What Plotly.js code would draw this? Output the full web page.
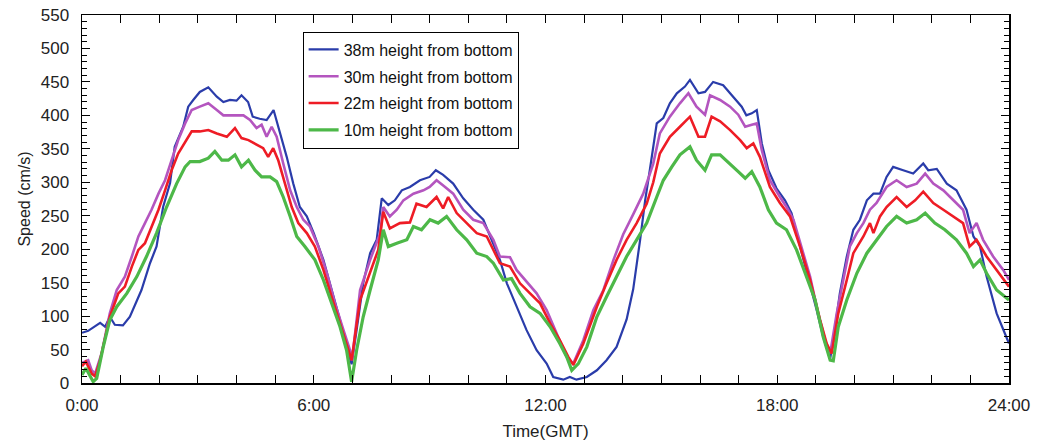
<!DOCTYPE html>
<html>
<head>
<meta charset="utf-8">
<script src="https://cdn.plot.ly/plotly-3.0.1.min.js"></script>
<style>html,body{margin:0;padding:0;background:#fff;}#chart{width:1040px;height:442px;}</style>
</head>
<body>
<div id="chart"></div>
<script>
// Series names
const seriesNames = ["38m height from bottom", "30m height from bottom", "22m height from bottom", "10m height from bottom"];
const seriesColors = ["#2a3caa", "#b455bf", "#ee1c25", "#4db848"];

// 38 m (hours, cm/s)
const t38 = [0,0.16,0.47,0.6,0.72,0.85,1.06,1.24,1.54,1.76,1.93,2.1,2.28,2.4,2.62,2.75,2.88,3.05,3.27,3.49,3.66,3.83,4.0,4.13,4.3,4.42,4.6,4.78,4.96,5.08,5.3,5.47,5.64,5.82,6.0,6.25,6.5,6.68,6.85,6.98,7.11,7.28,7.46,7.63,7.76,7.93,8.1,8.28,8.49,8.75,9.0,9.16,9.35,9.61,9.87,10.13,10.39,10.65,10.82,11.0,11.25,11.51,11.77,12.03,12.2,12.46,12.63,12.8,13.07,13.33,13.58,13.84,14.1,14.27,14.45,14.58,14.7,14.88,15.05,15.22,15.4,15.61,15.74,15.96,16.13,16.34,16.6,16.86,17.08,17.2,17.34,17.47,17.6,17.77,17.98,18.2,18.37,18.59,18.8,19.02,19.19,19.37,19.5,19.62,19.8,19.97,20.14,20.32,20.49,20.66,20.83,21.0,21.26,21.52,21.78,21.91,22.13,22.39,22.64,22.9,23.08,23.25,23.42,23.68,24.0];
const v38 = [75,78,90,84,99,87,86,99,139,179,204,263,299,353,383,413,423,435,442,428,420,423,422,430,420,398,395,393,408,383,338,298,263,249,224,184,134,94,54,28,79,149,194,214,276,266,273,288,293,303,308,318,311,298,276,259,244,209,184,149,114,79,49,29,9,5,9,5,9,19,34,54,95,140,214,273,318,388,396,418,433,443,453,433,435,450,445,428,413,400,403,408,358,318,291,273,254,204,159,109,69,36,84,134,189,229,244,273,283,283,308,323,318,313,328,318,320,298,288,259,219,204,159,104,59];

// 30 m
const t30 = [0,0.16,0.25,0.34,0.51,0.72,0.9,1.11,1.29,1.46,1.63,1.8,1.98,2.15,2.32,2.49,2.67,2.84,3.05,3.27,3.49,3.66,3.92,4.18,4.35,4.52,4.65,4.78,4.91,5.04,5.21,5.39,5.56,5.73,5.9,6.12,6.34,6.55,6.77,6.94,6.99,7.2,7.46,7.72,7.8,7.97,8.15,8.32,8.58,8.84,9.0,9.18,9.4,9.61,9.87,10.13,10.39,10.65,10.82,11.08,11.25,11.51,11.77,12.03,12.29,12.55,12.72,12.98,13.24,13.5,13.76,14.01,14.27,14.53,14.79,14.96,15.22,15.48,15.7,15.91,16.13,16.26,16.52,16.78,16.99,17.17,17.34,17.47,17.6,17.81,18.07,18.24,18.42,18.63,18.85,19.06,19.24,19.37,19.54,19.71,19.88,20.06,20.23,20.4,20.57,20.83,21.09,21.35,21.61,21.83,22.04,22.3,22.56,22.81,22.98,23.16,23.33,23.59,23.85,24.0];
const v30 = [30,34,19,14,45,104,139,159,189,219,239,259,283,303,333,363,388,408,413,418,408,400,400,400,393,381,386,368,383,368,328,288,263,244,234,204,164,119,79,49,34,139,184,224,263,249,259,273,283,288,293,303,293,283,259,244,239,214,189,188,169,151,134,109,74,39,29,64,109,139,184,222,252,283,328,373,398,418,433,413,401,430,423,413,401,383,386,388,348,303,278,263,244,204,159,104,64,44,104,154,204,224,239,259,269,293,303,293,298,313,298,288,273,259,224,239,214,189,169,154];

// 22 m
const t22 = [0,0.1,0.25,0.34,0.47,0.72,0.94,1.11,1.29,1.46,1.63,1.8,1.98,2.15,2.32,2.49,2.67,2.84,3.05,3.27,3.49,3.75,3.96,4.13,4.31,4.52,4.69,4.82,4.95,5.08,5.26,5.43,5.6,5.82,6.03,6.25,6.46,6.68,6.85,6.98,7.2,7.46,7.67,7.8,7.97,8.23,8.49,8.66,8.92,9.18,9.35,9.48,9.7,9.96,10.22,10.48,10.65,10.82,11.08,11.34,11.6,11.86,12.12,12.37,12.59,12.72,12.98,13.33,13.58,13.84,14.1,14.36,14.62,14.79,14.96,15.22,15.48,15.74,15.96,16.13,16.3,16.52,16.78,17.04,17.21,17.38,17.55,17.81,18.07,18.33,18.59,18.85,19.11,19.28,19.41,19.58,19.8,19.97,20.23,20.4,20.49,20.66,20.83,21.09,21.35,21.57,21.78,22.04,22.3,22.56,22.81,22.98,23.16,23.42,23.68,24.0];
const v22 = [25,32,14,10,34,99,134,144,174,199,209,234,259,288,318,343,361,376,376,378,373,368,381,366,363,356,351,338,351,333,298,263,239,224,204,169,129,89,59,34,124,164,199,256,231,239,240,268,263,278,261,278,254,239,224,219,199,179,174,149,134,119,89,64,39,27,59,114,149,184,214,239,268,300,343,368,383,398,368,368,398,391,378,363,351,358,338,293,269,249,204,154,94,59,44,104,154,194,219,239,224,249,263,278,263,273,286,269,259,249,239,204,214,189,169,144];

// 10 m
const t10 = [0,0.1,0.29,0.38,0.55,0.72,0.9,1.16,1.42,1.67,1.93,2.19,2.45,2.67,2.8,3.05,3.27,3.44,3.62,3.79,3.96,4.13,4.31,4.48,4.65,4.87,5.04,5.21,5.39,5.56,5.77,6.03,6.25,6.46,6.68,6.85,6.98,7.11,7.28,7.46,7.67,7.8,7.93,8.15,8.41,8.58,8.79,9.01,9.22,9.44,9.7,9.96,10.22,10.48,10.65,10.91,11.12,11.34,11.6,11.86,12.12,12.37,12.55,12.68,12.85,13.07,13.33,13.58,13.84,14.1,14.36,14.62,14.88,15.05,15.27,15.48,15.74,15.91,16.13,16.3,16.52,16.78,16.99,17.17,17.34,17.55,17.77,17.98,18.24,18.5,18.76,18.98,19.19,19.37,19.45,19.58,19.8,20.06,20.32,20.57,20.83,21.09,21.35,21.61,21.83,22.08,22.34,22.64,22.9,23.08,23.25,23.42,23.68,24.0];
const v10 = [12,22,2,7,54,94,114,134,159,189,224,263,298,323,331,331,336,346,333,333,341,323,333,318,308,308,301,278,249,219,204,184,154,119,84,49,2,49,99,139,184,229,204,209,214,234,229,244,239,249,229,214,194,189,179,154,156,134,114,104,84,59,39,19,29,54,99,129,159,189,214,239,278,303,323,341,353,333,318,341,341,328,316,306,316,293,259,239,229,199,159,124,69,34,33,84,124,164,194,214,234,249,239,244,254,239,229,214,194,174,184,164,139,124];

const xs = [t38, t30, t22, t10];
const ys = [v38, v30, v22, v10];
const widths = [2.2, 2.6, 2.6, 3.2];

const hourTicks = [0,1,2,3,4,5,6,7,8,9,10,11,12,13,14,15,16,17,18,19,20,21,22,23,24];
const hourLabels = hourTicks.map(h => (h % 6 === 0) ? (h + ":00") : "");
const yRange = [0, 550];
const xRange = [0, 24];

const traces = seriesNames.map((n, i) => ({
  x: xs[i], y: ys[i], name: n, type: "scatter", mode: "lines",
  legendgroup: "g" + i,
  line: {color: seriesColors[i], width: widths[i]}
}));
// empty helper trace so the mirrored (top/right) tick axes are drawn
traces.push({x: [], y: [], xaxis: "x2", yaxis: "y2", type: "scatter", mode: "lines", showlegend: false, hoverinfo: "skip"});

const fontFam = "Liberation Sans, Arial, sans-serif";

const layout = {
  width: 1040, height: 442,
  margin: {l: 82, r: 31, t: 15, b: 59, pad: 0},
  paper_bgcolor: "#ffffff", plot_bgcolor: "#ffffff",
  font: {family: fontFam, color: "#222", size: 16},
  showlegend: true,
  legend: {
    x: 0.238, y: 0.955, xanchor: "left", yanchor: "top",
    bordercolor: "#000", borderwidth: 1, bgcolor: "#fff",
    font: {family: fontFam, size: 16, color: "#111"},
    tracegroupgap: 3,
    entrywidth: 258, entrywidthmode: "pixels"
  },
  xaxis: {
    range: xRange, tickmode: "array", tickvals: hourTicks, ticktext: hourLabels,
    ticks: "inside", ticklen: 8, tickcolor: "#000", tickwidth: 1,
    showline: true, linecolor: "#000", linewidth: 1.5, mirror: true,
    showgrid: false, zeroline: false,
    tickfont: {family: fontFam, size: 17, color: "#222"},
    ticklabelstandoff: 6,
    title: {text: "Time(GMT)", font: {family: fontFam, size: 17, color: "#222"}, standoff: 11}
  },
  yaxis: {
    range: yRange, tickmode: "linear", tick0: 0, dtick: 50,
    ticks: "inside", ticklen: 8, tickcolor: "#000", tickwidth: 1,
    minor: {dtick: 10, ticks: "inside", ticklen: 5, tickcolor: "#000", showgrid: false},
    showline: true, linecolor: "#000", linewidth: 1.5, mirror: true,
    showgrid: false, zeroline: false,
    tickfont: {family: fontFam, size: 17, color: "#222"},
    ticklabelstandoff: 8,
    title: {text: "Speed (cm/s)", font: {family: fontFam, size: 16, color: "#222"}, standoff: 6}
  },
  xaxis2: {
    overlaying: "x", side: "top", anchor: "y2", range: xRange,
    tickmode: "array", tickvals: hourTicks, showticklabels: false,
    ticks: "inside", ticklen: 8, tickcolor: "#000", tickwidth: 1,
    showgrid: false, zeroline: false, showline: false
  },
  yaxis2: {
    overlaying: "y", side: "right", anchor: "x2", range: yRange,
    tickmode: "linear", tick0: 0, dtick: 50, showticklabels: false,
    ticks: "inside", ticklen: 8, tickcolor: "#000", tickwidth: 1,
    minor: {dtick: 10, ticks: "inside", ticklen: 5, tickcolor: "#000", showgrid: false},
    showgrid: false, zeroline: false, showline: false
  }
};

Plotly.newPlot("chart", traces, layout, {displayModeBar: false, staticPlot: true});
</script>
</body>
</html>
